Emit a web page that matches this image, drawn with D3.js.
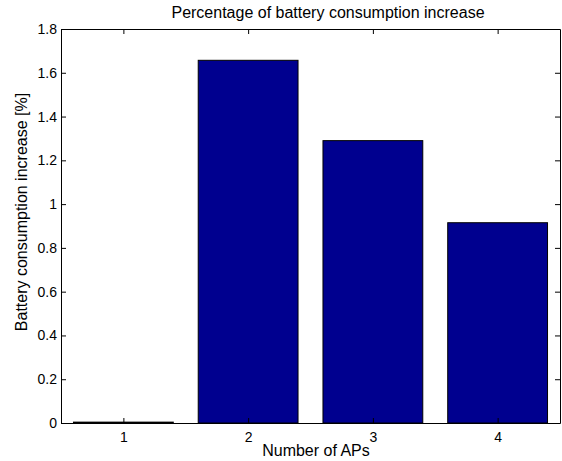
<!DOCTYPE html>
<html>
<head>
<meta charset="utf-8">
<script src="https://cdn.jsdelivr.net/npm/d3@7"></script>
<style>
  html, body { margin: 0; padding: 0; background: #fff; }
  svg text { font-family: "Liberation Sans", Arial, Helvetica, sans-serif; fill: #000; }
</style>
</head>
<body>
<svg id="chart" width="562" height="461"></svg>
<script>
const categories = [1, 2, 3, 4];
const values = [0.004, 1.657, 1.29, 0.915];
const yTicks = [0, 0.2, 0.4, 0.6, 0.8, 1, 1.2, 1.4, 1.6, 1.8];
const titleText = "Percentage of battery consumption increase";
const xLabelText = "Number of APs";
const yLabelText = "Battery consumption increase [%]";

const svg = d3.select("#chart");
const W = 562, H = 461;
const m = { left: 61, right: 2, top: 29, bottom: 38 };
const x0 = m.left, x1 = W - m.right, y0 = H - m.bottom, y1 = m.top;

const x = d3.scaleLinear().domain([0.5, 4.5]).range([x0, x1]);
const y = d3.scaleLinear().domain([0, 1.8]).range([y0, y1]);
const barW = 0.8;

svg.append("rect").attr("x", 0).attr("y", 0).attr("width", W).attr("height", H).attr("fill", "#fff");

// bars
svg.append("g").selectAll("rect").data(categories).join("rect")
  .attr("x", d => x(d - barW / 2))
  .attr("width", d => x(d + barW / 2) - x(d - barW / 2))
  .attr("y", (d, i) => y(values[i]))
  .attr("height", (d, i) => y(0) - y(values[i]))
  .attr("fill", "#00008f")
  .attr("stroke", "#000")
  .attr("stroke-width", 1);

const tickLen = 5;
const fs = 14;
const lfs = 16;

// bottom axis
const xAxisB = d3.axisBottom(x).tickValues(categories).tickSizeInner(-tickLen).tickSizeOuter(0).tickPadding(9).tickFormat(d3.format("d"));
const gxb = svg.append("g").attr("transform", `translate(0,${y0})`).call(xAxisB);
// top axis
const xAxisT = d3.axisTop(x).tickValues(categories).tickSizeInner(-tickLen).tickSizeOuter(0).tickFormat("");
const gxt = svg.append("g").attr("transform", `translate(0,${y1})`).call(xAxisT);
// left axis
const yAxisL = d3.axisLeft(y).tickValues(yTicks).tickSizeInner(-tickLen).tickSizeOuter(0).tickPadding(4).tickFormat(d3.format("~g"));
const gyl = svg.append("g").attr("transform", `translate(${x0},0)`).call(yAxisL);
// right axis
const yAxisR = d3.axisRight(y).tickValues(yTicks).tickSizeInner(-tickLen).tickSizeOuter(0).tickFormat("");
const gyr = svg.append("g").attr("transform", `translate(${x1},0)`).call(yAxisR);

[gxb, gxt, gyl, gyr].forEach(g => {
  g.select(".domain").attr("stroke", "#000").attr("stroke-width", 1);
  g.selectAll(".tick line").attr("stroke", "#000").attr("stroke-width", 1);
  g.selectAll(".tick text").attr("font-size", fs).attr("font-family", "Liberation Sans, Arial, sans-serif").attr("fill", "#000");
});

// Title
svg.append("text").attr("x", 328).attr("y", 18).attr("text-anchor", "middle").attr("font-size", lfs).text(titleText);
// X label
svg.append("text").attr("x", 316).attr("y", 456).attr("text-anchor", "middle").attr("font-size", lfs).text(xLabelText);
// Y label
svg.append("text").attr("transform", `translate(27,212) rotate(-90)`).attr("text-anchor", "middle").attr("font-size", lfs).text(yLabelText);
</script>
</body>
</html>
